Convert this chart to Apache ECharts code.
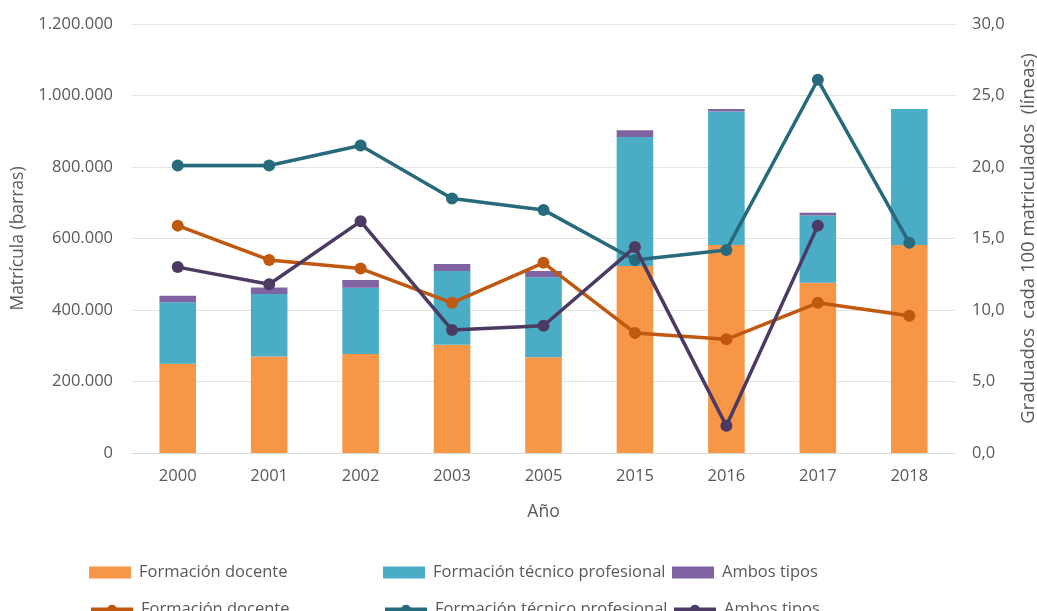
<!DOCTYPE html>
<html>
<head>
<meta charset="utf-8">
<script src="https://cdn.jsdelivr.net/npm/echarts@6/dist/echarts.min.js"></script>
<style>
  html, body { margin: 0; padding: 0; background: #fff; }
  #main { width: 1037px; height: 611px; }
</style>
</head>
<body>
<div id="main"></div>
<script>
var years = ['2000', '2001', '2002', '2003', '2005', '2015', '2016', '2017', '2018'];

// matrícula (barras)
var matDocente = [250000, 270000, 277000, 303000, 268000, 523000, 582000, 476000, 582000];
var matTecnico = [171500, 174500, 185500, 206000, 223500, 361000, 373000, 188500, 380000];
var matAmbos = [18500, 18700, 21500, 19600, 17600, 18600, 7500, 7400, 0];

// graduados cada 100 matriculados (líneas)
var gradDocente = [15.9, 13.5, 12.9, 10.5, 13.3, 8.4, 7.95, 10.5, 9.6];
var gradTecnico = [20.1, 20.1, 21.5, 17.8, 17.0, 13.5, 14.2, 26.1, 14.7];
var gradAmbos = [13.0, 11.8, 16.2, 8.6, 8.9, 14.4, 1.9, 15.9, null];

var txt = '#595959';
var fam = '"Open Sans", "Noto Sans", sans-serif';

function miles(v) {
  return String(v).replace(/\B(?=(\d{3})+(?!\d))/g, '.');
}

var chart = echarts.init(document.getElementById('main'));

function leg(name, left, top, icon) {
  var l = {
    data: [name],
    left: left,
    top: top,
    itemWidth: 42,
    itemHeight: 12,
    itemGap: 0,
    textStyle: { color: txt, fontSize: 16.5, fontFamily: fam, padding: [0, 0, 0, 3] },
    selectedMode: false
  };
  if (icon) l.icon = icon;
  else l.lineStyle = { width: 4 };
  return l;
}

chart.setOption({
  animation: false,
  textStyle: { fontFamily: fam },
  grid: { left: 132, right: 82, top: 24, bottom: 158, outerBoundsMode: 'none', containLabel: false },
  legend: [
    leg('Formación docente', 84, 559, 'rect'),
    leg('Formación técnico profesional', 378, 559, 'rect'),
    leg('Ambos tipos', 667, 559, 'rect'),
    leg('Formación docente ', 84, 596),
    leg('Formación técnico profesional ', 378, 596),
    leg('Ambos tipos ', 667, 596)
  ],
  xAxis: {
    type: 'category',
    data: years,
    name: 'Año',
    nameLocation: 'middle',
    nameGap: 50,
    nameTextStyle: { color: txt, fontSize: 17.5 },
    axisLine: { lineStyle: { color: '#d9d9d9' } },
    axisTick: { show: false },
    axisLabel: { color: txt, fontSize: 16.5, margin: 15 }
  },
  yAxis: [{
    type: 'value',
    min: 0,
    max: 1200000,
    interval: 200000,
    name: 'Matrícula (barras)',
    nameLocation: 'middle',
    nameGap: 104,
    nameTextStyle: { color: txt, fontSize: 17.5 },
    axisLine: { show: false },
    axisTick: { show: false },
    axisLabel: { color: txt, fontSize: 16.5, margin: 19, formatter: miles },
    splitLine: { lineStyle: { color: '#e3e3e3', width: 1 } }
  }, {
    type: 'value',
    min: 0,
    max: 30,
    interval: 5,
    name: 'Graduados  cada 100 matriculados  (líneas)',
    nameLocation: 'middle',
    nameGap: 64,
    nameTextStyle: { color: txt, fontSize: 18.5 },
    axisLine: { show: false },
    axisTick: { show: false },
    axisLabel: {
      color: txt, fontSize: 16.5, margin: 17,
      formatter: function (v) { return v.toFixed(1).replace('.', ','); }
    },
    splitLine: { show: false }
  }],
  series: [{
    name: 'Formación docente',
    type: 'bar',
    stack: 'mat',
    barWidth: '40%',
    data: matDocente,
    itemStyle: { color: '#F79646' }
  }, {
    name: 'Formación técnico profesional',
    type: 'bar',
    stack: 'mat',
    data: matTecnico,
    itemStyle: { color: '#4BACC6' }
  }, {
    name: 'Ambos tipos',
    type: 'bar',
    stack: 'mat',
    data: matAmbos,
    itemStyle: { color: '#8064A2' }
  }, {
    name: 'Formación docente ',
    type: 'line',
    yAxisIndex: 1,
    data: gradDocente,
    symbol: 'circle',
    symbolSize: 12,
    lineStyle: { width: 3.5, color: '#C0580F' },
    itemStyle: { color: '#C0580F' },
    z: 5
  }, {
    name: 'Formación técnico profesional ',
    type: 'line',
    yAxisIndex: 1,
    data: gradTecnico,
    symbol: 'circle',
    symbolSize: 12,
    lineStyle: { width: 3.5, color: '#276A7C' },
    itemStyle: { color: '#276A7C' },
    z: 5
  }, {
    name: 'Ambos tipos ',
    type: 'line',
    yAxisIndex: 1,
    data: gradAmbos,
    symbol: 'circle',
    symbolSize: 12,
    lineStyle: { width: 3.5, color: '#4B3A62' },
    itemStyle: { color: '#4B3A62' },
    z: 6
  }]
});
</script>
</body>
</html>
